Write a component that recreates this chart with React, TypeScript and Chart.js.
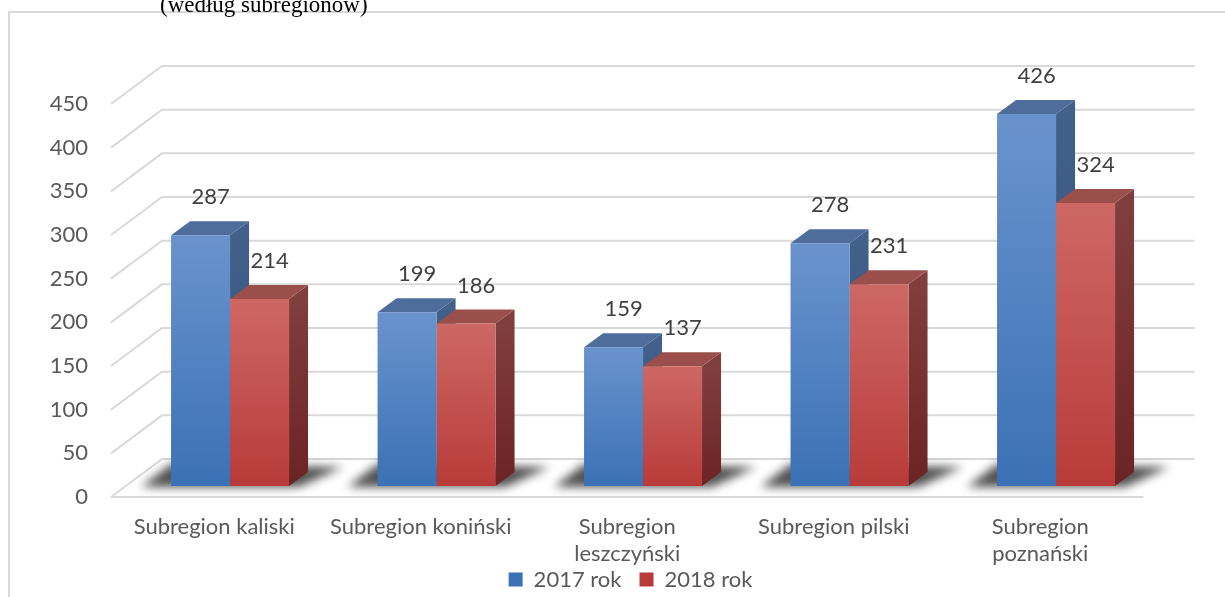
import React, { useEffect, useRef } from 'react';
import { Chart, registerables } from 'chart.js';

Chart.register(...registerables);

// ---- data ----
const categories: (string | string[])[] = [
  'Subregion kaliski',
  'Subregion koniński',
  ['Subregion', 'leszczyński'],
  'Subregion pilski',
  ['Subregion', 'poznański'],
];
const seriesNames = ['2017 rok', '2018 rok'];
const values2017 = [287, 199, 159, 278, 426];
const values2018 = [214, 186, 137, 231, 324];
const axisMin = 0;
const axisMax = 450;
const axisStep = 50;
const titleText = '(według subregionów)';

// ---- style ----
const FONT = "Lato, 'Noto Sans', sans-serif";
const FS = 22;
const W = 1261, H = 640;
const palette = [
  { solid: '#5182c3', front: ['#6a93cd', '#3b71b5'], top: '#4e6d9a', side: ['#41608a', '#2f4d78'] },
  { solid: '#c4514f', front: ['#cd6865', '#b83b39'], top: '#9b4f4d', side: ['#803e3c', '#6c2323'] },
];
const DX = 19, DY = 14; // bar depth
const BACK_X = 35.2, BACK_Y = 27; // back wall offset from bar plane
const FRONT_X = 15.8, FRONT_Y = 11; // front plane offset from bar plane
const AREA_L = 126.8, AREA_R = 1159.3;
const LEGEND_TOP = 550.5;

const frontFill = (k: number) => (c: any) => {
  const chart = c.chart;
  if (!chart.chartArea || c.dataIndex === undefined || c.type !== 'data') return palette[k].solid;
  const y = chart.scales.y;
  const top = y.getPixelForValue(c.raw);
  const base = y.getPixelForValue(0);
  const g = chart.ctx.createLinearGradient(0, top, 0, base);
  g.addColorStop(0, palette[k].front[0]);
  g.addColorStop(1, palette[k].front[1]);
  return g;
};

const threeD = {
  id: 'threeD',
  afterLayout(chart: any) {
    const lg = chart.legend;
    if (!lg) return;
    const h = lg.height;
    lg.left = 0;
    lg.right = chart.width;
    lg.width = chart.width;
    lg.top = LEGEND_TOP;
    lg.bottom = LEGEND_TOP + h;
  },
  beforeDraw(chart: any) {
    const ctx = chart.ctx;
    ctx.save();
    ctx.strokeStyle = '#d9d9d9';
    ctx.lineWidth = 2;
    ctx.strokeRect(9, 12, chart.width - 18, 900);
    ctx.restore();
  },
  beforeDatasetsDraw(chart: any) {
    const { ctx, chartArea: a, scales } = chart;
    const y = scales.y;
    ctx.save();
    // walls & gridlines
    ctx.strokeStyle = '#d9d9d9';
    ctx.lineWidth = 2;
    y.ticks.forEach((t: any) => {
      const py = y.getPixelForValue(t.value);
      ctx.beginPath();
      ctx.moveTo(a.left - FRONT_X, py + FRONT_Y);
      ctx.lineTo(a.left + BACK_X, py - BACK_Y);
      ctx.lineTo(a.right + BACK_X, py - BACK_Y);
      ctx.stroke();
    });
    const p0 = y.getPixelForValue(0);
    ctx.beginPath();
    ctx.moveTo(a.left - FRONT_X, p0 + FRONT_Y);
    ctx.lineTo(a.right - FRONT_X, p0 + FRONT_Y);
    ctx.stroke();

    const metas = chart.data.datasets.map((_: any, i: number) => chart.getDatasetMeta(i));
    const n = chart.data.labels.length;
    // floor shadows
    ctx.filter = 'blur(5px)';
    ctx.fillStyle = 'rgba(0,0,0,0.68)';
    for (let j = 0; j < n; j++) {
      const f = metas[0].data[j];
      const l = metas[metas.length - 1].data[j];
      const xL = f.x - f.width / 2;
      const xR = l.x + l.width / 2;
      const yb = f.base;
      ctx.beginPath();
      ctx.moveTo(xL - 30, yb + 1);
      ctx.lineTo(xR + 10, yb + 1);
      ctx.lineTo(xR + DX + 35, yb - 19);
      ctx.lineTo(xL, yb - 22);
      ctx.closePath();
      ctx.fill();
    }
    ctx.filter = 'none';
    // top & side faces
    for (let j = 0; j < n; j++) {
      metas.forEach((m: any, k: number) => {
        const el = m.data[j];
        const xl = el.x - el.width / 2;
        const xr = el.x + el.width / 2;
        const top = el.y;
        const base = el.base;
        const g = ctx.createLinearGradient(0, top, 0, base);
        g.addColorStop(0, palette[k].side[0]);
        g.addColorStop(1, palette[k].side[1]);
        ctx.fillStyle = g;
        ctx.beginPath();
        ctx.moveTo(xr, top);
        ctx.lineTo(xr + DX, top - DY);
        ctx.lineTo(xr + DX, base - DY);
        ctx.lineTo(xr, base);
        ctx.closePath();
        ctx.fill();
        ctx.fillStyle = palette[k].top;
        ctx.beginPath();
        ctx.moveTo(xl, top);
        ctx.lineTo(xl + DX, top - DY);
        ctx.lineTo(xr + DX, top - DY);
        ctx.lineTo(xr, top);
        ctx.closePath();
        ctx.fill();
      });
    }
    ctx.restore();
  },
  afterDatasetsDraw(chart: any) {
    const ctx = chart.ctx;
    ctx.save();
    ctx.font = `${FS}px ${FONT}`;
    ctx.fillStyle = '#404040';
    ctx.textAlign = 'center';
    ctx.textBaseline = 'middle';
    chart.data.datasets.forEach((ds: any, i: number) => {
      chart.getDatasetMeta(i).data.forEach((el: any, j: number) => {
        ctx.fillText(String(ds.data[j]), el.x + 10, el.y - 38);
      });
    });
    ctx.restore();
  },
};

export default function App() {
  const ref = useRef<HTMLCanvasElement>(null);
  useEffect(() => {
    if (!ref.current) return;
    const chart = new Chart(ref.current, {
      type: 'bar',
      data: {
        labels: categories as any,
        datasets: [
          { label: seriesNames[0], data: values2017, backgroundColor: frontFill(0) as any, borderWidth: 0, categoryPercentage: 0.5714, barPercentage: 1 },
          { label: seriesNames[1], data: values2018, backgroundColor: frontFill(1) as any, borderWidth: 0, categoryPercentage: 0.5714, barPercentage: 1 },
        ],
      },
      plugins: [threeD as any],
      options: {
        responsive: false,
        animation: false,
        devicePixelRatio: 1,
        layout: { padding: { left: 0, right: W - AREA_R, top: 93, bottom: 4 } },
        plugins: {
          legend: {
            position: 'bottom',
            labels: {
              boxWidth: 14,
              boxHeight: 14,
              padding: 18,
              color: '#595959',
              font: { family: FONT, size: FS },
            },
          },
          tooltip: { enabled: false },
        },
        scales: {
          x: {
            grid: { display: false, drawTicks: false },
            border: { display: false },
            ticks: {
              color: '#595959',
              font: { family: FONT, size: FS, lineHeight: 1.227 },
              padding: 27,
              labelOffset: -FRONT_X,
              maxRotation: 0,
              minRotation: 0,
              autoSkip: false,
            },
            afterFit: (s: any) => { s.height = 100; },
          },
          y: {
            min: axisMin,
            max: axisMax,
            grid: { display: false, drawTicks: false },
            border: { display: false },
            ticks: {
              stepSize: axisStep,
              color: '#595959',
              font: { family: FONT, size: FS },
              padding: 38.8,
              labelOffset: FRONT_Y,
            },
            afterFit: (s: any) => { s.width = AREA_L; },
          },
        },
      },
    });
    return () => chart.destroy();
  }, []);

  return (
    <div style={{ position: 'fixed', left: 0, top: 0, width: 1225, height: 597, background: '#fff', overflow: 'hidden' }}>
      <canvas ref={ref} width={W} height={H} style={{ display: 'block', width: W, height: H }} />
      <div
        style={{
          position: 'absolute',
          left: 160,
          top: -7,
          fontFamily: "'Liberation Serif', 'DejaVu Serif', serif",
          fontSize: 23,
          lineHeight: '23px',
          color: '#000',
          whiteSpace: 'nowrap',
        }}
      >
        {titleText}
      </div>
    </div>
  );
}
